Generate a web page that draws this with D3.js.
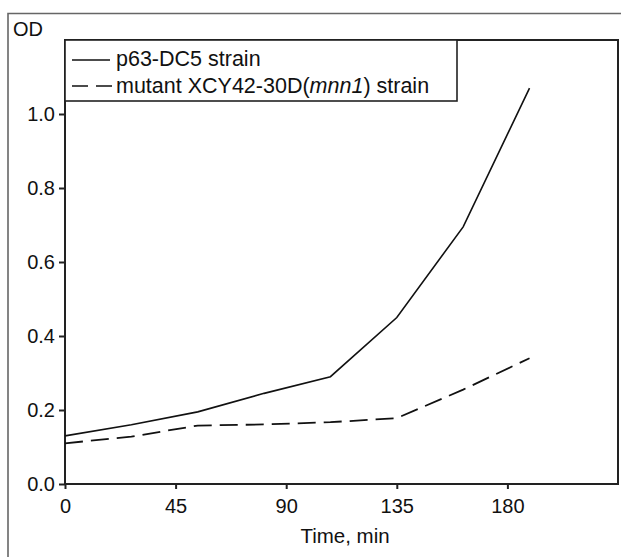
<!DOCTYPE html>
<html>
  <head>
    <meta charset="UTF-8">
    <style>
      body { margin: 0; background: #fff; }
      text { font-family: Arial, "Liberation Sans", sans-serif; fill: #111; }
      .axis path, .axis line { stroke: #222; stroke-width: 2px; }
      .axis text { font-size: 20px; }
    </style>
    <script src="https://d3js.org/d3.v7.min.js"></script>
  </head>
  <body>
    <script type="text/javascript">
      var times = [0, 27, 54, 81, 108, 135, 162, 189];
      var wildType = [0.13, 0.16, 0.195, 0.245, 0.29, 0.45, 0.695, 1.07];
      var mutant = [0.11, 0.128, 0.158, 0.161, 0.167, 0.178, 0.255, 0.34];
      var xTicks = [0, 45, 90, 135, 180];
      var yTicks = [0, 0.2, 0.4, 0.6, 0.8, 1.0];
      var seriesNames = ["p63-DC5 strain", "mutant XCY42-30D(", "mnn1", ") strain"];

      var width = 621, height = 557;
      var plotL = 65, plotR = 618, plotT = 40, plotB = 484;

      var svg = d3.select("body").append("svg")
        .attr("width", width)
        .attr("height", height);

      // outer frame (only top and left visible)
      svg.append("path")
        .attr("d", "M8,580V13.5H630")
        .attr("fill", "none")
        .attr("stroke", "#666")
        .attr("stroke-width", 1.6);

      var x = d3.scaleLinear().domain([0, 225]).range([plotL, plotR]);
      var y = d3.scaleLinear().domain([0, 1.2]).range([plotB, plotT]);

      // plot box
      svg.append("rect")
        .attr("x", plotL).attr("y", plotT)
        .attr("width", plotR - plotL).attr("height", plotB - plotT)
        .attr("fill", "none")
        .attr("stroke", "#222")
        .attr("stroke-width", 2);

      svg.append("g")
        .attr("class", "axis")
        .attr("transform", "translate(0," + plotB + ")")
        .call(d3.axisBottom(x).tickValues(xTicks).tickSize(5).tickPadding(10).tickFormat(d3.format("d")))
        .call(function(g) { g.select(".domain").remove(); });

      svg.append("g")
        .attr("class", "axis")
        .attr("transform", "translate(" + plotL + ",0)")
        .call(d3.axisLeft(y).tickValues(yTicks).tickSize(6).tickPadding(4).tickFormat(d3.format(".1f")))
        .call(function(g) { g.select(".domain").remove(); });

      var line = d3.line()
        .x(function(d) { return x(d[0]); })
        .y(function(d) { return y(d[1]); });

      svg.append("path")
        .datum(d3.zip(times, wildType))
        .attr("d", line)
        .attr("fill", "none")
        .attr("stroke", "#111")
        .attr("stroke-width", 1.6);

      svg.append("path")
        .datum(d3.zip(times, mutant))
        .attr("d", line)
        .attr("fill", "none")
        .attr("stroke", "#111")
        .attr("stroke-width", 1.8)
        .attr("stroke-dasharray", "18,8");

      // axis titles
      svg.append("text")
        .attr("x", 13).attr("y", 36)
        .style("font-size", "20px")
        .text("OD");

      svg.append("text")
        .attr("x", 345).attr("y", 543)
        .attr("text-anchor", "middle")
        .style("font-size", "20.5px")
        .text("Time, min");

      // legend
      var legend = svg.append("g");
      legend.append("rect")
        .attr("x", plotL).attr("y", plotT)
        .attr("width", 392).attr("height", 61)
        .attr("fill", "#fff")
        .attr("stroke", "#222")
        .attr("stroke-width", 1.6);

      legend.append("line")
        .attr("x1", 72).attr("x2", 110).attr("y1", 60).attr("y2", 60)
        .attr("stroke", "#111").attr("stroke-width", 1.6);
      legend.append("line")
        .attr("x1", 72).attr("x2", 112).attr("y1", 86).attr("y2", 86)
        .attr("stroke", "#111").attr("stroke-width", 1.6)
        .attr("stroke-dasharray", "16,8");

      legend.append("text")
        .attr("x", 116).attr("y", 66)
        .style("font-size", "21.5px")
        .text(seriesNames[0]);

      var t2 = legend.append("text")
        .attr("x", 116).attr("y", 93)
        .style("font-size", "21.5px");
      t2.append("tspan").text(seriesNames[1]);
      t2.append("tspan").style("font-style", "italic").text(seriesNames[2]);
      t2.append("tspan").text(seriesNames[3]);
    </script>
  </body>
</html>
